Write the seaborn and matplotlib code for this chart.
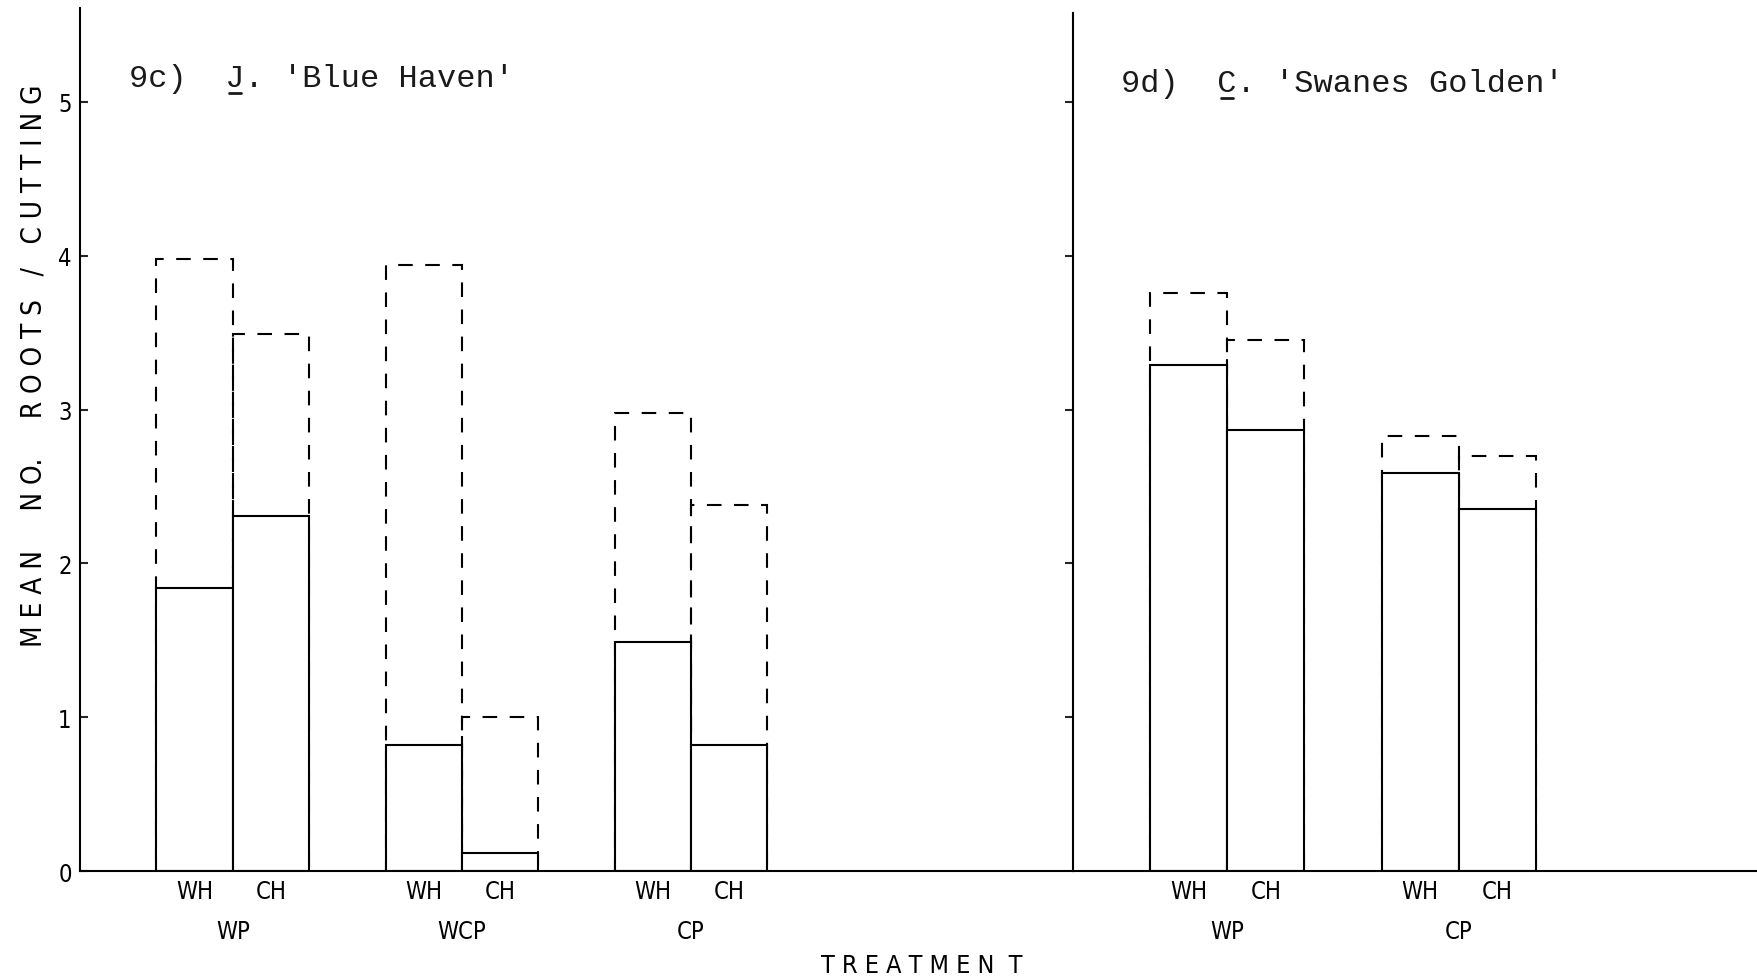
import numpy as np
import pandas as pd
import matplotlib
matplotlib.use('Agg')
import matplotlib.pyplot as plt
import seaborn as sns
from matplotlib.lines import Line2D

# data (mean no. roots / cutting)
hormones = ['WH', 'CH']

groups_c = ['WP', 'WCP', 'CP']
solid_c = [1.84, 2.31, 0.82, 0.12, 1.49, 0.82]
dashed_c = [3.98, 3.49, 3.94, 1.00, 2.98, 2.38]

groups_d = ['WP', 'CP']
solid_d = [3.29, 2.87, 2.59, 2.35]
dashed_d = [3.76, 3.45, 2.83, 2.70]

y_ticks = [0, 1, 2, 3, 4, 5]

title_c = "9c)  J. 'Blue Haven'"
title_d = "9d)  C. 'Swanes Golden'"

sns.set_style('white')
plt.rcParams['font.family'] = ['DejaVu Sans']

LW = 1.5
LETTER = dict(family='DejaVu Sans', fontstretch='condensed', color='black')
W, H = 1758, 979
AX_H = 863


def draw_panel(ax, groups, solid, dashed):
    df = pd.DataFrame({
        'treatment': np.repeat(groups, len(hormones)),
        'hormone': hormones * len(groups),
        'solid': solid,
        'dashed': dashed,
    })
    # dashed outlines first, solid white bars on top
    sns.barplot(data=df, x='treatment', y='dashed', hue='hormone',
                order=groups, hue_order=hormones, palette=['black', 'black'],
                fill=False, width=2/3, gap=0, errorbar=None, legend=False,
                linewidth=LW, linestyle=(0, (7, 6)), ax=ax)
    sns.barplot(data=df, x='treatment', y='solid', hue='hormone',
                order=groups, hue_order=hormones, palette=['white', 'white'],
                edgecolor='black', width=2/3, gap=0, errorbar=None,
                legend=False, linewidth=LW, ax=ax)
    pos = [g + d for g in range(len(groups)) for d in (-1/6, 1/6)]
    ax.set_xticks(pos)
    ax.set_xticklabels(hormones * len(groups), fontsize=17, **LETTER)
    ax.tick_params(axis='x', length=0, pad=6)
    for i, g in enumerate(groups):
        ax.text(i, -60 / AX_H, g, transform=ax.get_xaxis_transform(),
                ha='center', va='center', fontsize=17, **LETTER)
    ax.set_xlabel('')
    ax.set_ylabel('')
    ax.set_ylim(0, 5.61)
    for s in ['top', 'right']:
        ax.spines[s].set_visible(False)
    for s in ['left', 'bottom']:
        ax.spines[s].set_linewidth(LW)
        ax.spines[s].set_color('black')


fig = plt.figure(figsize=(W / 100, H / 100), dpi=100)
ax1 = fig.add_axes([80 / W, 1 - 872 / H, 993 / W, AX_H / H])
ax2 = fig.add_axes([1073 / W, 1 - 872 / H, 685 / W, AX_H / H])

draw_panel(ax1, groups_c, solid_c, dashed_c)
draw_panel(ax2, groups_d, solid_d, dashed_d)

ax1.set_xlim(-2/3, 3.667)
ax2.set_xlim(-2/3, 2.293)

ax1.set_yticks(y_ticks)
ax1.set_yticklabels([str(t) for t in y_ticks], fontsize=17, **LETTER)
ax1.tick_params(axis='y', direction='in', length=6, width=LW, pad=6, left=True)

ax2.set_yticks(y_ticks[1:])
ax2.set_yticklabels([])
ax2.tick_params(axis='y', direction='out', length=6, width=LW, left=True)
ax2.spines['left'].set_bounds(0, 5.58)

fig.text(34 / W, 1 - 366 / H,
         'M E A N     N O.     R O O T S   /   C U T T I N G',
         rotation=90, ha='center', va='center', fontsize=20, **LETTER)
fig.text(922 / W, 1 - 966 / H, 'T R E A T M E N  T',
         ha='center', va='center', fontsize=18, **LETTER)

# typewritten panel titles, genus initial underlined
titles = []
for txt, x, y in [(title_c, 129, 87), (title_d, 1121, 92)]:
    t = fig.text(x / W, 1 - y / H, txt, family='Liberation Mono',
                 fontsize=23, ha='left', va='baseline', color='#1a1a1a')
    titles.append((t, y))

fig.canvas.draw()
renderer = fig.canvas.get_renderer()
for t, y in titles:
    bb = t.get_window_extent(renderer)
    cw = bb.width / len(t.get_text())
    x0 = bb.x0 + 5 * cw
    yl = 1 - (y + 7) / H
    fig.add_artist(Line2D([x0 / W + 0.002, (x0 + cw) / W - 0.002], [yl, yl],
                          transform=fig.transFigure, color='#1a1a1a', lw=2))

fig.savefig('out.png', dpi=100)
